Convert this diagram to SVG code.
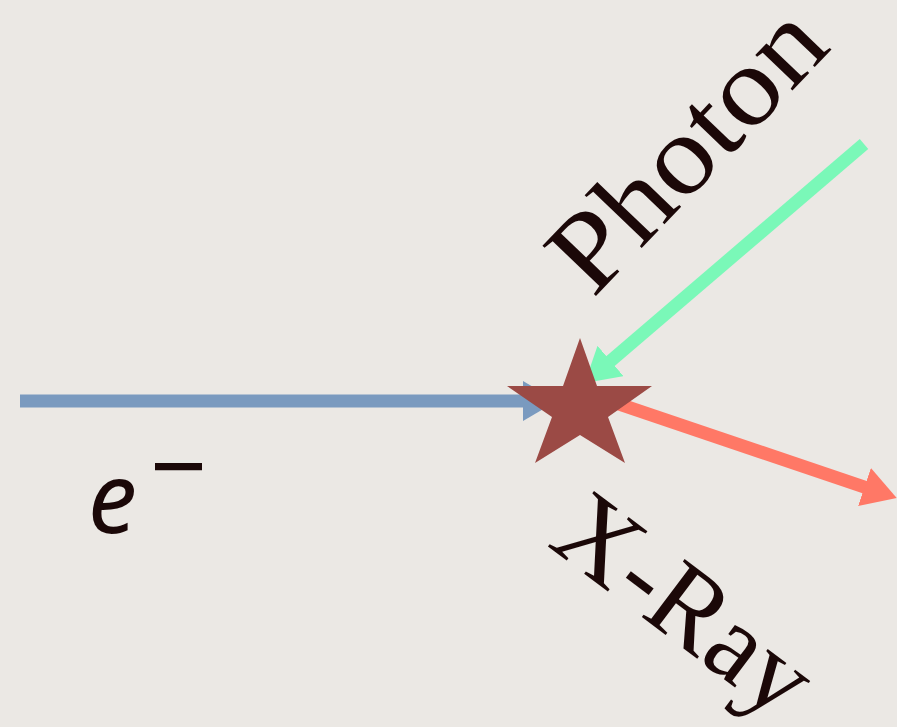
<svg xmlns="http://www.w3.org/2000/svg" width="897" height="727" viewBox="0 0 897 727">
<style>
.lbl{font-family:"Liberation Serif","Times New Roman",serif;fill:#1b0808}
.ln{stroke-width:13;stroke-linecap:butt;fill:none}
</style>
<defs>
<marker id="hb" viewBox="0 -20 34 40" markerWidth="34" markerHeight="40" refX="4" refY="0" orient="auto" markerUnits="userSpaceOnUse"><path d="M0,-20 L34,0 L0,20 Z" fill="#7a9abf"/></marker>
<marker id="hg" viewBox="0 -20 34 40" markerWidth="34" markerHeight="40" refX="4" refY="0" orient="auto" markerUnits="userSpaceOnUse"><path d="M0,-20 L34,0 L0,20 Z" fill="#7af8b8"/></marker>
<marker id="hr" viewBox="0 -20 34 40" markerWidth="34" markerHeight="40" refX="4" refY="0" orient="auto" markerUnits="userSpaceOnUse"><path d="M0,-20 L34,0 L0,20 Z" fill="#ff7866"/></marker>
</defs>
<rect width="897" height="727" fill="#ebe8e4"/>
<g id="connectors">
<line class="ln" x1="20" y1="401" x2="527" y2="401" stroke="#7a9abf" marker-end="url(#hb)"/>
<line class="ln" x1="864" y1="144" x2="607.5" y2="363.6" stroke="#7af8b8" marker-end="url(#hg)"/>
<line class="ln" x1="600" y1="397.6" x2="868.3" y2="488.3" stroke="#ff7866" marker-end="url(#hr)"/>
</g>
<g id="star">
<polygon points="580,338 597,386 652,386 608,417 625,463 580,435 535,463 552,417 507,386 563,386" fill="#9b4a45"/>
</g>
<g id="label-electron">
<text x="88" y="533" font-family="'Noto Sans',sans-serif" font-size="98" font-style="italic" fill="#1b0808">e<tspan x="150" y="502" font-style="normal" font-size="100">−</tspan></text>
</g>
<g id="label-photon">
<text class="lbl" transform="translate(593,299) rotate(-46.3)" font-size="112" textLength="347" lengthAdjust="spacingAndGlyphs">Photon</text>
</g>
<g id="label-xray">
<text class="lbl" transform="translate(546,545) rotate(37)" font-size="110">X-Ray</text>
</g>
</svg>
